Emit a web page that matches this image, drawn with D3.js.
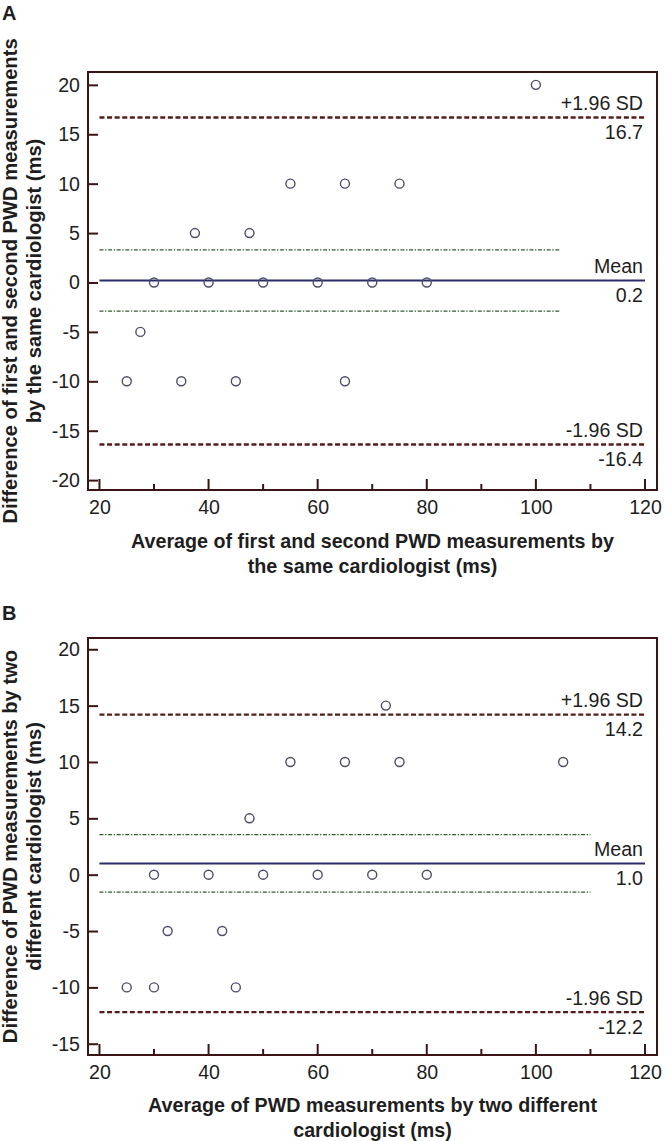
<!DOCTYPE html>
<html>
<head>
<meta charset="utf-8">
<script src="https://cdn.jsdelivr.net/npm/d3@7"></script>
<style>
  html, body { margin: 0; padding: 0; background: #fff; }
  svg { display: block; }
  text { font-family: "Liberation Sans", Arial, Helvetica, sans-serif; }
</style>
</head>
<body>
<script>
// ---------- DATA ----------
const xTicks = [20, 30, 40, 50, 60, 70, 80, 90, 100, 110, 120];
const xTickLabels = [20, 40, 60, 80, 100, 120];

// Panel A
const aLetter = "A";
const aYTicks = [20, 15, 10, 5, 0, -5, -10, -15, -20];
const aAvg  = [25, 27.5, 30, 35, 37.5, 40, 45, 47.5, 50, 55, 60, 65, 65, 70, 75, 80, 100];
const aDiff = [-10, -5, 0, -10, 5, 0, -10, 5, 0, 10, 0, 10, -10, 0, 10, 0, 20];
const aMean = 0.2, aUpper = 16.7, aLower = -16.4;
const aCiHi = 3.3, aCiLo = -2.9, aCiEnd = 104.5;
const aYTitle = ["Difference of first and second PWD measurements", "by the same cardiologist (ms)"];
const aXTitle = ["Average of first and second PWD measurements by", "the same cardiologist (ms)"];

// Panel B
const bLetter = "B";
const bYTicks = [20, 15, 10, 5, 0, -5, -10, -15];
const bAvg  = [25, 30, 30, 32.5, 40, 42.5, 45, 47.5, 50, 55, 60, 65, 70, 72.5, 75, 80, 105];
const bDiff = [-10, 0, -10, -5, 0, -5, -10, 5, 0, 10, 0, 10, 0, 15, 10, 0, 10];
const bMean = 1.0, bUpper = 14.2, bLower = -12.2;
const bCiHi = 3.55, bCiLo = -1.55, bCiEnd = 110;
const bYTitle = ["Difference of PWD measurements by two", "different cardiologist (ms)"];
const bXTitle = ["Average of PWD measurements by two different", "cardiologist (ms)"];

// ---------- DRAW ----------
const W = 667, H = 1141;
const svg = d3.select("body").append("svg").attr("width", W).attr("height", H);

const FRAME = "#3d1416";
const SD_COL = "#571b1e";
const MEAN_COL = "#2a2c6c";
const CI_COL = "#2f5f2f";
const PT_COL = "#4d4d68";
const TXT = "#1e1e1e";
const FS = 19.6;
const fmt = v => v.toFixed(1);

function panel(cfg) {
  const left = 88, right = 657;
  const x = d3.scaleLinear().domain([17.9, 122.2]).range([left, right]);
  const y = d3.scaleLinear().domain(cfg.yDomain).range([cfg.bottom, cfg.top]);
  const g = svg.append("g");

  // letter
  g.append("text").attr("x", 2).attr("y", cfg.letterY)
    .attr("font-size", 20).attr("font-weight", "bold").attr("fill", TXT).text(cfg.letter);

  // frame
  g.append("rect").attr("x", left).attr("y", cfg.top)
    .attr("width", right - left).attr("height", cfg.bottom - cfg.top)
    .attr("fill", "none").attr("stroke", FRAME).attr("stroke-width", 2);

  // y axis (ticks inward)
  const yAxis = d3.axisRight(y).tickValues(cfg.yTicks).tickSize(10).tickFormat("");
  const ya = g.append("g").attr("transform", `translate(${left},0)`).call(yAxis);
  ya.select(".domain").remove();
  ya.selectAll(".tick line").attr("stroke", FRAME).attr("stroke-width", 2);
  g.selectAll(".ylab").data(cfg.yTicks).enter().append("text")
    .attr("x", 80).attr("y", d => y(d) + 7).attr("text-anchor", "end")
    .attr("font-size", FS).attr("fill", TXT).text(d => String(d));

  // x axis ticks (upward)
  const xa = g.append("g");
  xa.selectAll("line").data(xTicks).enter().append("line")
    .attr("x1", d => x(d)).attr("x2", d => x(d))
    .attr("y1", cfg.bottom).attr("y2", d => cfg.bottom - (d % 20 === 0 ? 11 : 6))
    .attr("stroke", FRAME).attr("stroke-width", 2);
  const xAxis = d3.axisBottom(x).tickValues(xTickLabels).tickSize(0).tickPadding(0);
  const xl = g.append("g").attr("transform", `translate(0,${cfg.bottom})`).call(xAxis);
  xl.select(".domain").remove();
  xl.selectAll(".tick text").attr("font-size", FS).attr("fill", TXT)
    .attr("font-family", '"Liberation Sans", Arial, sans-serif')
    .attr("dy", null).attr("y", 24);

  // CI lines (green dash-dot)
  [cfg.ciHi, cfg.ciLo].forEach(v => {
    g.append("line").attr("x1", x(20)).attr("x2", x(cfg.ciEnd))
      .attr("y1", y(v)).attr("y2", y(v))
      .attr("stroke", CI_COL).attr("stroke-width", 1.3)
      .attr("stroke-dasharray", "4,1.6,1.4,1.6");
  });

  // SD lines
  [cfg.upper, cfg.lower].forEach(v => {
    g.append("line").attr("x1", x(20)).attr("x2", x(120))
      .attr("y1", y(v)).attr("y2", y(v))
      .attr("stroke", SD_COL).attr("stroke-width", 2.4)
      .attr("stroke-dasharray", "5,2.6");
  });

  // mean line
  g.append("line").attr("x1", x(20)).attr("x2", x(120))
    .attr("y1", y(cfg.mean)).attr("y2", y(cfg.mean))
    .attr("stroke", MEAN_COL).attr("stroke-width", 2);

  // labels
  const lx = x(120) - 2;
  const labs = [
    [cfg.upper, "+1.96 SD", fmt(cfg.upper)],
    [cfg.mean, "Mean", fmt(cfg.mean)],
    [cfg.lower, "-1.96 SD", fmt(cfg.lower)]
  ];
  labs.forEach(([v, top, bot]) => {
    g.append("text").attr("x", lx).attr("y", y(v) - 7.5).attr("text-anchor", "end")
      .attr("font-size", FS).attr("fill", TXT).text(top);
    g.append("text").attr("x", lx).attr("y", y(v) + 21.5).attr("text-anchor", "end")
      .attr("font-size", FS).attr("fill", TXT).text(bot);
  });

  // points
  g.selectAll(".pt").data(cfg.avg.map((a, i) => [a, cfg.diff[i]])).enter().append("circle")
    .attr("cx", d => x(d[0])).attr("cy", d => y(d[1])).attr("r", 4.5)
    .attr("fill", "none").attr("stroke", PT_COL).attr("stroke-width", 1.4);

  // y title
  const cy = (cfg.top + cfg.bottom) / 2;
  cfg.yTitle.forEach((t, i) => {
    g.append("text").attr("transform", `translate(${17 + i * 23.5},${cy}) rotate(-90) scale(1.035,1)`)
      .attr("text-anchor", "middle").attr("font-size", 19.5).attr("font-weight", "bold")
      .attr("fill", TXT).text(t);
  });
  // x title
  cfg.xTitle.forEach((t, i) => {
    g.append("text").attr("x", (left + right) / 2).attr("y", cfg.xTitleY + i * 24.5)
      .attr("text-anchor", "middle").attr("font-size", 19.7).attr("font-weight", "bold")
      .attr("fill", TXT).text(t);
  });
}

panel({
  letter: aLetter, letterY: 20, top: 72, bottom: 490, yDomain: [-21.0, 21.3],
  yTicks: aYTicks, avg: aAvg, diff: aDiff, mean: aMean, upper: aUpper, lower: aLower,
  ciHi: aCiHi, ciLo: aCiLo, ciEnd: aCiEnd, yTitle: aYTitle, xTitle: aXTitle, xTitleY: 548
});
panel({
  letter: bLetter, letterY: 620, top: 638, bottom: 1055, yDomain: [-16, 21],
  yTicks: bYTicks, avg: bAvg, diff: bDiff, mean: bMean, upper: bUpper, lower: bLower,
  ciHi: bCiHi, ciLo: bCiLo, ciEnd: bCiEnd, yTitle: bYTitle, xTitle: bXTitle, xTitleY: 1112
});
</script>
</body>
</html>
